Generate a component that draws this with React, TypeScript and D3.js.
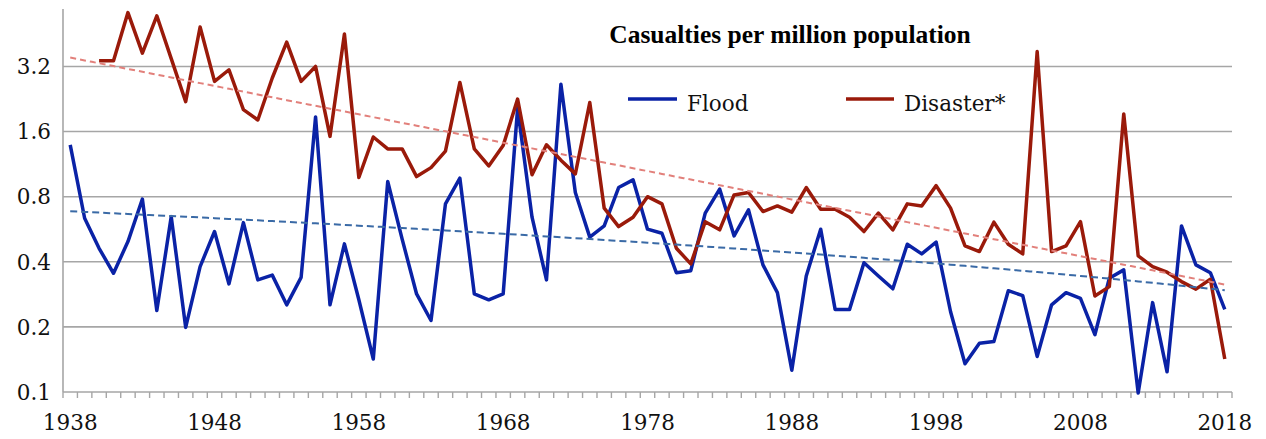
import React from 'react';
import * as d3 from 'd3';

// Yearly categories 1938–2018
const firstYear = 1938;
const lastYear = 2018;
const years: number[] = d3.range(firstYear, lastYear + 1);

const xTickYears = [1938, 1948, 1958, 1968, 1978, 1988, 1998, 2008, 2018];
const yTickValues = [0.1, 0.2, 0.4, 0.8, 1.6, 3.2];
const yTickLabels = ['0.1', '0.2', '0.4', '0.8', '1.6', '3.2'];

// Flood casualties per million population, 1938–2018
const flood: number[] = [
  1.39, 0.636, 0.462, 0.354, 0.496, 0.78, 0.238, 0.647, 0.199, 0.38,
  0.552, 0.316, 0.607, 0.33, 0.347, 0.253, 0.339, 1.87, 0.253, 0.484,
  0.267, 0.142, 0.94, 0.509, 0.284, 0.214, 0.741, 0.974, 0.284, 0.267,
  0.284, 2.05, 0.643, 0.33, 2.65, 0.836, 0.52, 0.586, 0.882, 0.957,
  0.566, 0.542, 0.356, 0.364, 0.671, 0.867, 0.527, 0.695, 0.387, 0.288,
  0.126, 0.344, 0.566, 0.241, 0.241, 0.396, 0.344, 0.3, 0.482, 0.435,
  0.493, 0.235, 0.135, 0.168, 0.171, 0.294, 0.279, 0.146, 0.253, 0.288,
  0.271, 0.184, 0.336, 0.367, 0.099, 0.259, 0.124, 0.586, 0.387, 0.356, 0.241,
];

// Disaster* casualties per million population (series begins 1940)
const disaster: (number | null)[] = [
  null, null, 3.4, 3.4, 5.68, 3.69, 5.49, 3.48, 2.2, 4.87,
  2.73, 3.09, 2.02, 1.81, 2.83, 4.15, 2.73, 3.2, 1.52, 4.52,
  0.981, 1.51, 1.33, 1.33, 0.991, 1.09, 1.3, 2.7, 1.33, 1.11,
  1.38, 2.26, 1.01, 1.39, 1.18, 1.02, 2.18, 0.708, 0.582, 0.643,
  0.8, 0.741, 0.462, 0.391, 0.613, 0.562, 0.815, 0.836, 0.683, 0.725,
  0.678, 0.882, 0.7, 0.7, 0.643, 0.552, 0.671, 0.562, 0.741, 0.725,
  0.9, 0.708, 0.474, 0.446, 0.61, 0.482, 0.435, 3.75, 0.446, 0.474,
  0.613, 0.278, 0.307, 1.93, 0.426, 0.38, 0.358, 0.324, 0.299, 0.332, 0.142,
];

const W = 1266;
const H = 439;
const plotLeft = 63;
const plotRight = 1232;
const plotTop = 9;
const plotBottom = 392;

const FLOOD_COLOR = '#0a22a6';
const DISASTER_COLOR = '#9a1a0a';
const FLOOD_TREND = '#3a6aa6';
const DISASTER_TREND = '#e2807b';
const GRID = '#a6a6a6';
const FONT = '"DejaVu Serif", serif';
const TITLE_FONT = '"Liberation Serif", "DejaVu Serif", serif';

// Least-squares fit of v against the category index
function linearFit(pts: [number, number][]) {
  const mx = d3.mean(pts, (p) => p[0])!;
  const my = d3.mean(pts, (p) => p[1])!;
  let sxy = 0;
  let sxx = 0;
  for (const [a, b] of pts) {
    sxy += (a - mx) * (b - my);
    sxx += (a - mx) * (a - mx);
  }
  const slope = sxy / sxx;
  return { slope, intercept: my - slope * mx };
}

export default function App() {
  const x = d3.scaleBand<number>().domain(years).range([plotLeft, plotRight]).padding(0);
  const bw = x.bandwidth();
  const cx = (yr: number) => (x(yr) as number) + bw / 2;
  const xAt = (t: number) => plotLeft + bw / 2 + t * bw;

  const y = d3.scaleLog().base(2).domain([0.1, 5.9]).range([plotBottom, plotTop]);

  const floodPts: [number, number | null][] = years.map((yr, i) => [yr, flood[i]]);
  const disasterPts: [number, number | null][] = years.map((yr, i) => [yr, disaster[i]]);

  const line = d3
    .line<[number, number | null]>()
    .defined((d) => d[1] != null)
    .x((d) => cx(d[0]))
    .y((d) => y(d[1] as number));

  // Linear trend for flood, exponential trend for disaster
  const fFit = linearFit(flood.map((v, i) => [i, v] as [number, number]));
  const dFit = linearFit(
    disaster
      .map((v, i) => [i, v] as [number, number | null])
      .filter((p) => p[1] != null)
      .map((p) => [p[0], Math.log(p[1] as number)] as [number, number])
  );
  const steps = d3.range(0, years.length - 1 + 0.001, 0.5);
  const trendLine = d3
    .line<[number, number]>()
    .x((d) => xAt(d[0]))
    .y((d) => y(d[1]));
  const floodTrend = trendLine(steps.map((t) => [t, fFit.intercept + fFit.slope * t]));
  const disasterTrend = trendLine(
    steps.map((t) => [t, Math.exp(dFit.intercept + dFit.slope * t)])
  );

  const tickEdges = d3.range(0, years.length + 1).map((k) => plotLeft + k * bw);

  return (
    <svg
      width={W}
      height={H}
      style={{ position: 'absolute', left: 0, top: 0, background: '#fff' }}
    >
      {/* horizontal gridlines */}
      {yTickValues.slice(1).map((v) => (
        <line
          key={v}
          x1={plotLeft}
          x2={plotRight}
          y1={y(v)}
          y2={y(v)}
          stroke={GRID}
          strokeWidth={1.6}
        />
      ))}
      {/* axes */}
      <line x1={plotLeft} x2={plotLeft} y1={plotTop} y2={plotBottom} stroke={GRID} strokeWidth={1.6} />
      <line x1={plotLeft} x2={plotRight} y1={plotBottom} y2={plotBottom} stroke={GRID} strokeWidth={1.6} />
      {tickEdges.map((tx, k) => (
        <line key={k} x1={tx} x2={tx} y1={plotBottom} y2={plotBottom + 6} stroke={GRID} strokeWidth={1.4} />
      ))}
      {/* y tick labels */}
      {yTickValues.map((v, i) => (
        <text
          key={v}
          x={51}
          y={y(v)}
          dy="0.36em"
          textAnchor="end"
          fontFamily={FONT}
          fontSize={21.5}
          fill="#111"
        >
          {yTickLabels[i]}
        </text>
      ))}
      {/* x tick labels */}
      {xTickYears.map((yr) => (
        <text
          key={yr}
          x={cx(yr)}
          y={430}
          textAnchor="middle"
          fontFamily={FONT}
          fontSize={21.5}
          fill="#111"
        >
          {yr}
        </text>
      ))}
      {/* series */}
      <path d={line(floodPts) ?? ''} fill="none" stroke={FLOOD_COLOR} strokeWidth={3.5} strokeLinejoin="round" />
      <path d={line(disasterPts) ?? ''} fill="none" stroke={DISASTER_COLOR} strokeWidth={3.5} strokeLinejoin="round" />
      {/* trend lines */}
      <path d={floodTrend ?? ''} fill="none" stroke={FLOOD_TREND} strokeWidth={2} strokeDasharray="7 4" />
      <path d={disasterTrend ?? ''} fill="none" stroke={DISASTER_TREND} strokeWidth={2} strokeDasharray="6 4" />
      {/* title */}
      <text x={790} y={43} textAnchor="middle" fontFamily={TITLE_FONT} fontWeight="bold" fontSize={25.5} fill="#000">
        Casualties per million population
      </text>
      {/* legend */}
      <line x1={628} x2={677} y1={99} y2={99} stroke={FLOOD_COLOR} strokeWidth={3.5} />
      <text x={687} y={111} fontFamily={FONT} fontSize={21.5} fill="#111">
        Flood
      </text>
      <line x1={846} x2={894} y1={99} y2={99} stroke={DISASTER_COLOR} strokeWidth={3.5} />
      <text x={904} y={111} fontFamily={FONT} fontSize={21.5} fill="#111">
        Disaster*
      </text>
    </svg>
  );
}
